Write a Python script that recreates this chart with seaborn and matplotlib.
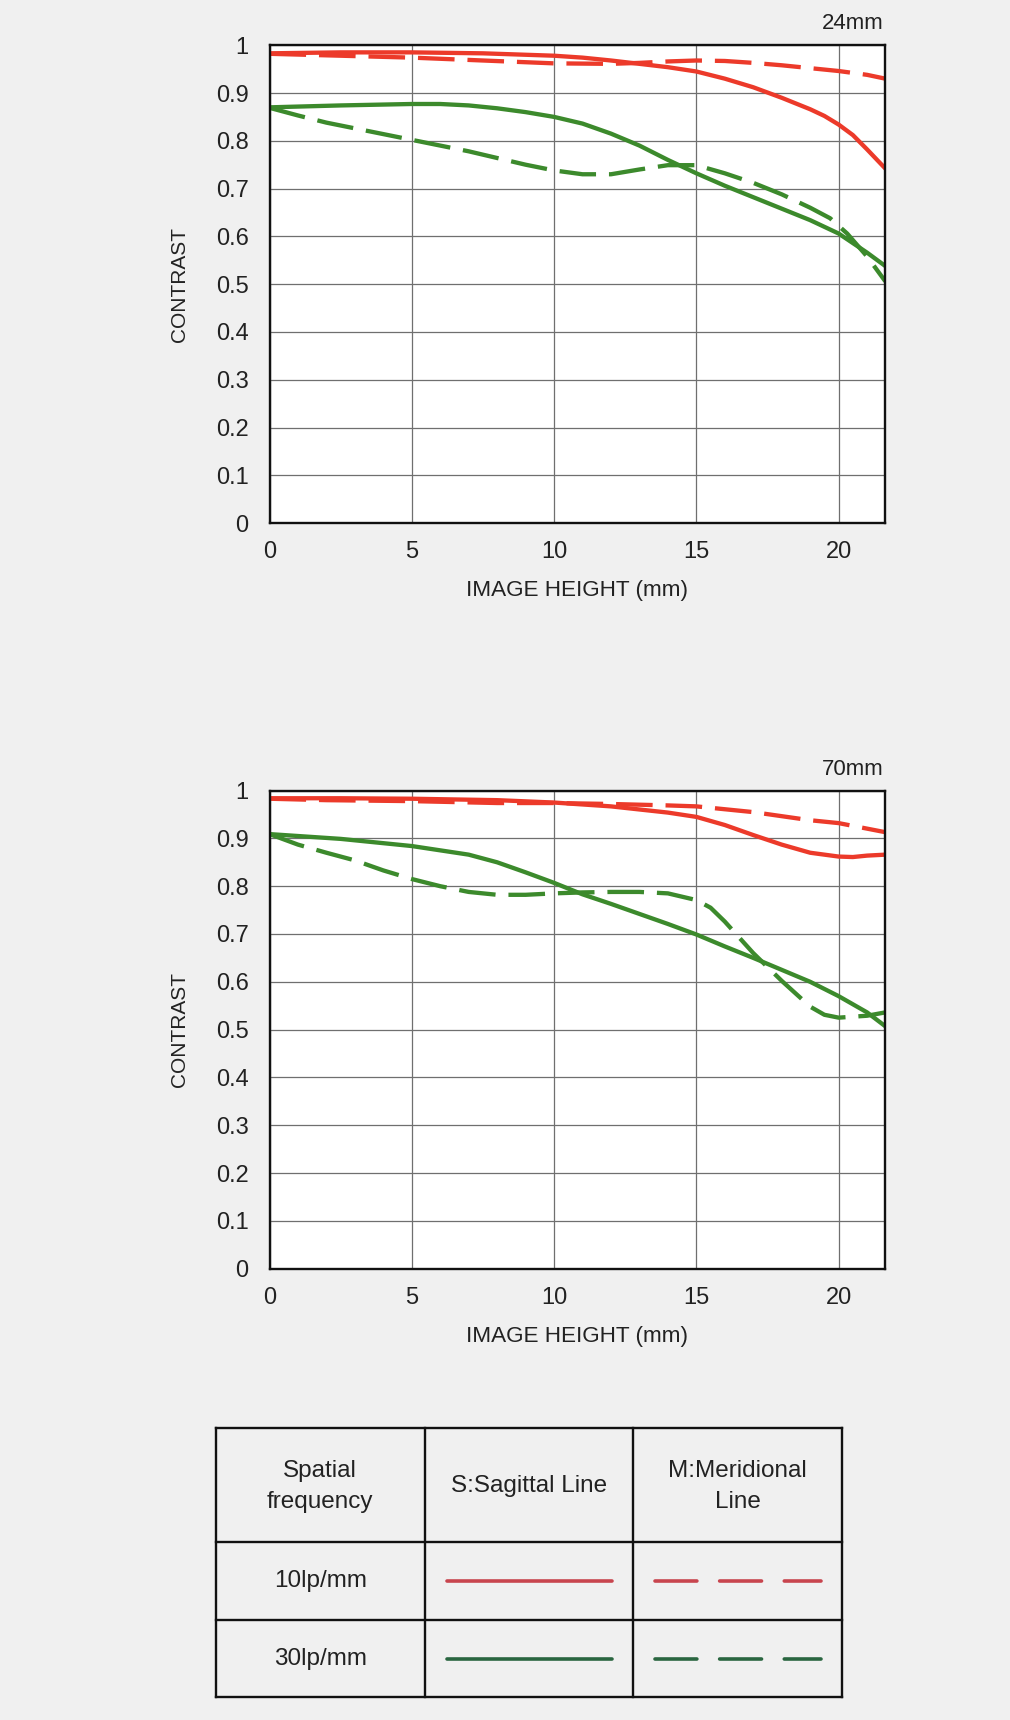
import matplotlib
matplotlib.use("Agg")
import matplotlib.pyplot as plt
import seaborn as sns
import pandas as pd
import numpy as np

# ---------------- data ----------------
focal_lengths = ["24mm", "70mm"]
x_ticks = [0, 5, 10, 15, 20]
y_ticks = [0, 0.1, 0.2, 0.3, 0.4, 0.5, 0.6, 0.7, 0.8, 0.9, 1]
y_tick_labels = ["0", "0.1", "0.2", "0.3", "0.4", "0.5", "0.6", "0.7", "0.8", "0.9", "1"]
x_max = 21.64

# 24mm
x_24_s10 = [0, 2.5, 5, 7.5, 10, 11, 12, 13, 14, 15, 16, 17, 18, 19, 19.5, 20, 20.5, 21, 21.64]
y_24_s10 = [0.983, 0.985, 0.985, 0.983, 0.978, 0.974, 0.968, 0.961, 0.954, 0.945, 0.930, 0.912,
            0.890, 0.866, 0.852, 0.834, 0.812, 0.782, 0.742]
x_24_m10 = [0, 2.5, 5, 7.5, 10, 12, 13, 14, 15, 16, 17, 18, 19, 20, 21, 21.64]
y_24_m10 = [0.982, 0.978, 0.974, 0.968, 0.962, 0.961, 0.963, 0.966, 0.968, 0.967, 0.963, 0.958,
            0.952, 0.946, 0.938, 0.930]
x_24_s30 = [0, 2.5, 5, 6, 7, 8, 9, 10, 11, 12, 13, 14, 15, 16, 17, 18, 19, 20, 21, 21.64]
y_24_s30 = [0.870, 0.874, 0.877, 0.877, 0.874, 0.868, 0.860, 0.850, 0.836, 0.815, 0.790, 0.760,
            0.732, 0.706, 0.682, 0.658, 0.634, 0.606, 0.566, 0.538]
x_24_m30 = [0, 1, 2, 3, 4, 5, 6, 7, 8, 9, 10, 11, 12, 13, 14, 15, 16, 17, 18, 19, 19.7, 20.3, 21, 21.64]
y_24_m30 = [0.869, 0.853, 0.838, 0.826, 0.814, 0.802, 0.790, 0.778, 0.764, 0.750, 0.738, 0.730,
            0.730, 0.740, 0.749, 0.749, 0.732, 0.712, 0.688, 0.660, 0.638, 0.606, 0.558, 0.506]

# 70mm
x_70_s10 = [0, 2.5, 5, 8, 10, 12, 14, 15, 16, 17, 18, 19, 20, 20.5, 21, 21.64]
y_70_s10 = [0.984, 0.984, 0.983, 0.980, 0.975, 0.967, 0.954, 0.945, 0.928, 0.907, 0.887, 0.870,
            0.862, 0.861, 0.864, 0.866]
x_70_m10 = [0, 2, 5, 8, 10, 12, 14, 15, 17, 19, 20, 21.64]
y_70_m10 = [0.983, 0.980, 0.978, 0.974, 0.974, 0.972, 0.969, 0.967, 0.955, 0.938, 0.932, 0.913]
x_70_s30 = [0, 2.5, 5, 7, 8, 9, 10, 11, 12, 13, 14, 15, 16, 17, 18, 19, 20, 21, 21.64]
y_70_s30 = [0.909, 0.899, 0.884, 0.866, 0.850, 0.829, 0.807, 0.783, 0.763, 0.742, 0.721, 0.699,
            0.674, 0.650, 0.625, 0.600, 0.570, 0.536, 0.507]
x_70_m30 = [0, 1, 2, 3, 4, 5, 6, 7, 8, 9, 10, 11, 12, 13, 14, 15, 15.5, 16, 17, 18, 19, 19.5, 20, 21, 21.64]
y_70_m30 = [0.909, 0.887, 0.870, 0.854, 0.833, 0.815, 0.800, 0.788, 0.782, 0.782, 0.785, 0.787,
            0.788, 0.788, 0.785, 0.771, 0.755, 0.726, 0.660, 0.602, 0.548, 0.531, 0.525, 0.529, 0.536]

table_header = ["Spatial\nfrequency", "S:Sagittal Line", "M:Meridional\nLine"]
table_rows = ["10lp/mm", "30lp/mm"]

# ---------------- style ----------------
BG = "#f0f0f0"
RED = "#ec3a2a"
GREEN = "#3c8a2c"
LEG_RED = "#c8454e"
LEG_GREEN = "#2a6640"
TXT = "#222222"

sns.set_theme(style="white")
plt.rcParams["font.family"] = ["Liberation Sans", "DejaVu Sans"]
plt.rcParams["figure.facecolor"] = BG


def build_frame(series):
    parts = []
    for xs, ys, freq, kind in series:
        parts.append(pd.DataFrame({"height": xs, "contrast": ys, "freq": freq, "kind": kind}))
    return pd.concat(parts, ignore_index=True)


panels = {
    "24mm": build_frame([
        (x_24_s10, y_24_s10, "10lp/mm", "S"),
        (x_24_m10, y_24_m10, "10lp/mm", "M"),
        (x_24_s30, y_24_s30, "30lp/mm", "S"),
        (x_24_m30, y_24_m30, "30lp/mm", "M"),
    ]),
    "70mm": build_frame([
        (x_70_s10, y_70_s10, "10lp/mm", "S"),
        (x_70_m10, y_70_m10, "10lp/mm", "M"),
        (x_70_s30, y_70_s30, "30lp/mm", "S"),
        (x_70_m30, y_70_m30, "30lp/mm", "M"),
    ]),
}

fig = plt.figure(figsize=(10.10, 17.20), dpi=100)
fig.patch.set_facecolor(BG)

W, H = 1010, 1720
ax_left_px, ax_right_px = 269.5, 885.3
panel_tops = [45.2, 790.6]
panel_h = 478.0

for fl, top in zip(focal_lengths, panel_tops):
    ax = fig.add_axes([ax_left_px / W, 1 - (top + panel_h) / H,
                       (ax_right_px - ax_left_px) / W, panel_h / H])
    ax.set_facecolor("white")
    sns.lineplot(data=panels[fl], x="height", y="contrast", hue="freq", style="kind",
                 palette={"10lp/mm": RED, "30lp/mm": GREEN},
                 dashes={"S": "", "M": (8.5, 3.0)},
                 estimator=None, sort=False, legend=False, lw=3.1, ax=ax, zorder=3)
    for ln in ax.get_lines():
        ln.set_solid_joinstyle("round")
        ln.set_dash_joinstyle("round")
    ax.set_xlim(0, x_max)
    ax.set_ylim(0, 1)
    ax.set_xticks(x_ticks)
    ax.set_xticklabels([str(t) for t in x_ticks])
    ax.set_yticks(y_ticks)
    ax.set_yticklabels(y_tick_labels)
    ax.tick_params(axis="y", length=0, pad=15.0, labelsize=17, labelcolor=TXT)
    ax.tick_params(axis="x", length=0, pad=13.0, labelsize=17, labelcolor=TXT)
    ax.grid(True, color="#6f6f6f", lw=0.9, zorder=1)
    ax.set_axisbelow(True)
    for sp in ax.spines.values():
        sp.set_visible(True)
        sp.set_color("#111111")
        sp.set_linewidth(1.7)
        sp.set_zorder(5)
    ax.set_xlabel("")
    ax.set_ylabel("")
    ax.text(0.5, -(590.8 - 523.2) / panel_h, "IMAGE HEIGHT (mm)", transform=ax.transAxes,
            ha="center", va="center", fontsize=16.2, color=TXT)
    ax.text(-0.1466, 0.5, "CONTRAST", transform=ax.transAxes, rotation=90,
            ha="center", va="center", fontsize=15, color=TXT)
    ax.text(0.997, 1 + 21.4 / panel_h, fl, transform=ax.transAxes,
            ha="right", va="center", fontsize=16, color=TXT)

# ---------------- legend table ----------------
t_left, t_right, t_top, t_bottom = 216, 842, 1427.5, 1697
tw, th = t_right - t_left, t_bottom - t_top
tax = fig.add_axes([t_left / W, 1 - t_bottom / H, tw / W, th / H])
tax.set_xlim(0, tw)
tax.set_ylim(th, 0)
tax.axis("off")

col_edges = [0, 208.5, 417, 626]
row_edges = [0, 114.5, 192.5, 269.5]
for yv in row_edges:
    tax.plot([0, tw], [yv, yv], color="#111111", lw=1.7, clip_on=False, solid_capstyle="projecting")
for xv in col_edges:
    tax.plot([xv, xv], [0, th], color="#111111", lw=1.7, clip_on=False, solid_capstyle="projecting")

col_centers = [(col_edges[i] + col_edges[i + 1]) / 2 for i in range(3)]
row_centers = [(row_edges[i] + row_edges[i + 1]) / 2 for i in range(3)]

for c, label in zip(col_centers, table_header):
    tax.text(c, row_centers[0] + 1.5, label, ha="center", va="center", fontsize=17.5,
             color=TXT, linespacing=1.55)

leg_colors = [LEG_RED, LEG_GREEN]
solid_x = [230.7, 395.7]
dash_x = [438.8, 604.6]
for r, (label, col) in enumerate(zip(table_rows, leg_colors)):
    yc = row_centers[r + 1]
    tax.text(col_centers[0], yc, label, ha="center", va="center", fontsize=17.5, color=TXT)
    tax.plot(solid_x, [yc, yc], color=col, lw=2.6, solid_capstyle="round")
    ln, = tax.plot(dash_x, [yc, yc], color=col, lw=2.6, dash_capstyle="round")
    ln.set_dashes((11.6, 6.3))

fig.savefig("out.png", dpi=100, facecolor=BG)
